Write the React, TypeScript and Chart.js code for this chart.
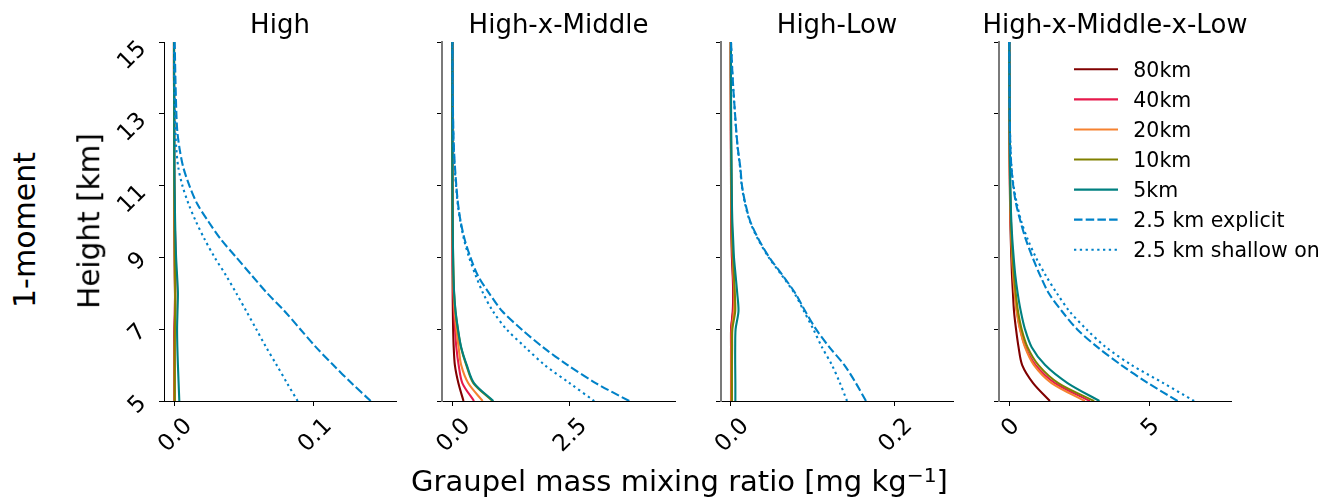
import React, { useEffect, useRef } from "react";
import { Chart, registerables } from "chart.js";

Chart.register(...registerables);

// ---------------- data ----------------
const heights = [5, 5.5, 6, 6.5, 7, 7.5, 8, 8.5, 9, 9.5, 10, 10.5, 11, 11.5, 12, 12.5, 13, 14, 15];

const seriesLabels = ["80km", "40km", "20km", "10km", "5km", "2.5 km explicit", "2.5 km shallow on"];
const panelTitles = ["High", "High-x-Middle", "High-Low", "High-x-Middle-x-Low"];

const yTickValues = [5, 7, 9, 11, 13, 15];
const yTickLabels = ["5", "7", "9", "11", "13", "15"];

const xTickValuesHigh = [0, 0.1];
const xTickLabelsHigh = ["0.0", "0.1"];
const xTickValuesHM = [0, 2.5];
const xTickLabelsHM = ["0.0", "2.5"];
const xTickValuesHL = [0, 0.2];
const xTickLabelsHL = ["0.0", "0.2"];
const xTickValuesHML = [0, 5];
const xTickLabelsHML = ["0", "5"];

// High
const high80 = [0.0003, 0.0003, 0.0003, 0.0003, 0.0004, 0.0008, 0.0007, 0.0005, 0.0004, 0.0003, 0.0002, 0.0002, 0.0001, 0.0001, 0.0001, 0.0001, 0.0001, 0, 0];
const high40 = [0.0003, 0.0003, 0.0003, 0.0003, 0.0003, 0.0005, 0.0008, 0.0012, 0.0012, 0.0009, 0.0005, 0.0003, 0.0002, 0.0001, 0.0001, 0.0001, 0.0001, 0, 0];
const high20 = [0.0004, 0.0004, 0.0004, 0.0005, 0.0009, 0.001, 0.0008, 0.0006, 0.0005, 0.0004, 0.0003, 0.0002, 0.0001, 0.0001, 0.0001, 0.0001, 0.0001, 0, 0];
const high10 = [0.0005, 0.0005, 0.0005, 0.0005, 0.0006, 0.0008, 0.0009, 0.0008, 0.0006, 0.0005, 0.0004, 0.0003, 0.0002, 0.0001, 0.0001, 0.0001, 0.0001, 0, 0];
const high5 = [0.0038, 0.0033, 0.0028, 0.0024, 0.0022, 0.0025, 0.0028, 0.0022, 0.0015, 0.0011, 0.0008, 0.0006, 0.0004, 0.0003, 0.0002, 0.0002, 0.0002, 0.0001, 0];
const highExplicit = [0.1408, 0.127, 0.114, 0.1016, 0.0904, 0.0792, 0.0668, 0.0556, 0.0446, 0.0336, 0.0246, 0.0165, 0.011, 0.0067, 0.0041, 0.0024, 0.0017, 0.001, 0.0005];
const highShallow = [0.0885, 0.0809, 0.0735, 0.0659, 0.0589, 0.0518, 0.0446, 0.0372, 0.0291, 0.022, 0.0157, 0.0103, 0.006, 0.0031, 0.0017, 0.001, 0.0007, 0.0002, 0];

// High-x-Middle
const hm80 = [0.24, 0.13, 0.055, 0.03, 0.018, 0.012, 0.008, 0.006, 0.004, 0.003, 0.002, 0.0015, 0.001, 0.001, 0.001, 0.001, 0.001, 0.001, 0.001];
const hm40 = [0.465, 0.215, 0.136, 0.086, 0.058, 0.036, 0.022, 0.014, 0.009, 0.006, 0.004, 0.003, 0.002, 0.0015, 0.001, 0.001, 0.001, 0.001, 0.001];
const hm20 = [0.65, 0.34, 0.19, 0.135, 0.086, 0.05, 0.03, 0.02, 0.013, 0.009, 0.006, 0.004, 0.003, 0.002, 0.0015, 0.001, 0.001, 0.001, 0.001];
const hm10 = [0.86, 0.45, 0.3, 0.185, 0.118, 0.067, 0.038, 0.024, 0.017, 0.011, 0.007, 0.005, 0.003, 0.002, 0.0015, 0.001, 0.001, 0.001, 0.001];
const hm5 = [0.88, 0.465, 0.31, 0.19, 0.122, 0.07, 0.04, 0.025, 0.018, 0.012, 0.008, 0.005, 0.003, 0.002, 0.0015, 0.001, 0.001, 0.001, 0.001];
const hmExplicit = [3.79, 3.07, 2.47, 1.94, 1.48, 1.07, 0.79, 0.545, 0.39, 0.265, 0.179, 0.122, 0.086, 0.058, 0.036, 0.024, 0.015, 0.008, 0.004];
const hmShallow = [3.04, 2.51, 1.98, 1.56, 1.16, 0.87, 0.66, 0.5, 0.36, 0.25, 0.172, 0.115, 0.08, 0.05, 0.03, 0.02, 0.013, 0.006, 0.001];

// High-Low
const hl80 = [0.0004, 0.0004, 0.0004, 0.0004, 0.0005, 0.0025, 0.003, 0.0025, 0.0015, 0.001, 0.0007, 0.0005, 0.0004, 0.0003, 0.0003, 0.0002, 0.0002, 0.0001, 0.0001];
const hl40 = [0.0005, 0.0005, 0.0005, 0.0005, 0.0006, 0.003, 0.0035, 0.0028, 0.002, 0.0013, 0.0009, 0.0006, 0.0005, 0.0004, 0.0003, 0.0002, 0.0002, 0.0001, 0.0001];
const hl20 = [0.0008, 0.0008, 0.0008, 0.001, 0.0015, 0.004, 0.0045, 0.0035, 0.0025, 0.0017, 0.0012, 0.0009, 0.0007, 0.0005, 0.0004, 0.0003, 0.0002, 0.0001, 0.0001];
const hl10 = [0.0015, 0.0015, 0.0015, 0.0017, 0.002, 0.0055, 0.005, 0.004, 0.003, 0.002, 0.0015, 0.0012, 0.001, 0.0008, 0.0006, 0.0004, 0.0003, 0.0002, 0.0001];
const hl5 = [0.0057, 0.0057, 0.0055, 0.0055, 0.006, 0.0095, 0.008, 0.006, 0.004, 0.003, 0.002, 0.0015, 0.0012, 0.001, 0.0008, 0.0006, 0.0005, 0.0003, 0.0003];
const hlExplicit = [0.1654, 0.153, 0.139, 0.1206, 0.1043, 0.0912, 0.079, 0.0635, 0.0472, 0.0342, 0.024, 0.0179, 0.0138, 0.0118, 0.0089, 0.0069, 0.0053, 0.0024, 0.0004];
const hlShallow = [0.1422, 0.1336, 0.1238, 0.1116, 0.101, 0.0896, 0.078, 0.0625, 0.0465, 0.0335, 0.0235, 0.0175, 0.0135, 0.0115, 0.0087, 0.0067, 0.0052, 0.0023, 0.0003];

// High-x-Middle-x-Low
const hml80 = [1.45, 0.85, 0.46, 0.33, 0.24, 0.168, 0.13, 0.096, 0.073, 0.053, 0.037, 0.027, 0.02, 0.016, 0.013, 0.01, 0.008, 0.004, 0.001];
const hml40 = [2.88, 1.63, 0.94, 0.58, 0.39, 0.275, 0.2, 0.145, 0.108, 0.075, 0.05, 0.035, 0.025, 0.018, 0.013, 0.01, 0.008, 0.004, 0.001];
const hml20 = [2.7, 1.51, 0.88, 0.56, 0.38, 0.26, 0.19, 0.14, 0.1, 0.07, 0.048, 0.033, 0.023, 0.017, 0.012, 0.009, 0.007, 0.004, 0.001];
const hml10 = [3.03, 1.75, 1.04, 0.65, 0.44, 0.31, 0.23, 0.168, 0.12, 0.085, 0.06, 0.042, 0.03, 0.021, 0.015, 0.011, 0.009, 0.005, 0.001];
const hml5 = [3.22, 2.08, 1.28, 0.8, 0.56, 0.41, 0.3, 0.215, 0.156, 0.108, 0.073, 0.05, 0.037, 0.027, 0.02, 0.015, 0.012, 0.007, 0.001];
const hmlExplicit = [6.01, 4.95, 4.0, 3.15, 2.42, 1.88, 1.41, 1.1, 0.83, 0.59, 0.4, 0.24, 0.14, 0.075, 0.042, 0.024, 0.014, 0.006, 0.002];
const hmlShallow = [6.6, 5.5, 4.37, 3.45, 2.75, 2.15, 1.7, 1.3, 0.95, 0.66, 0.43, 0.27, 0.15, 0.08, 0.045, 0.025, 0.015, 0.007, 0.002];

const panelSeries = [
  [high80, high40, high20, high10, high5, highExplicit, highShallow],
  [hm80, hm40, hm20, hm10, hm5, hmExplicit, hmShallow],
  [hl80, hl40, hl20, hl10, hl5, hlExplicit, hlShallow],
  [hml80, hml40, hml20, hml10, hml5, hmlExplicit, hmlShallow],
];
const panelXTicks = [xTickValuesHigh, xTickValuesHM, xTickValuesHL, xTickValuesHML];
const panelXTickLabels = [xTickLabelsHigh, xTickLabelsHM, xTickLabelsHL, xTickLabelsHML];

// ---------------- styles / layout ----------------
const seriesColors = ["#800000", "#e6194b", "#f58231", "#808000", "#008080", "#0082c8", "#0082c8"];
const seriesDashes = [[], [], [], [], [], [8.5, 3.2], [2.3, 3.5]];
const FONT = '"DejaVu Sans", sans-serif';
const FIG_W = 1322;
const FIG_H = 501;
const AX_TOP = 42;
const AX_BOTTOM = 401;
const LEFT_ROOM = 60;

const panelGeom = [
  { left: 164, right: 396, xmin: -0.00716, xmax: 0.1589, padR: 20 },
  { left: 442, right: 675, xmin: -0.2206, xmax: 4.769, padR: 20 },
  { left: 721, right: 953, xmin: -0.01186, xmax: 0.2718, padR: 20 },
  { left: 999, right: 1231, xmin: -0.368, xmax: 7.918, padR: FIG_W - 1231 },
];

function makeTextPlugin(p: number) {
  return {
    id: "panelText" + p,
    afterDraw(chart: any) {
      const ctx = chart.ctx;
      const ca = chart.chartArea;
      const xs = chart.scales.x;
      const ys = chart.scales.y;
      ctx.save();
      ctx.fillStyle = "#000";
      // title
      ctx.font = `26px ${FONT}`;
      ctx.textAlign = "center";
      ctx.textBaseline = "alphabetic";
      ctx.fillText(panelTitles[p], (ca.left + ca.right) / 2, 33.3);

      // x tick labels (rotated 45deg, centred on tick)
      const tf = 23;
      ctx.font = `${tf}px ${FONT}`;
      const xv = panelXTicks[p];
      const xl = panelXTickLabels[p];
      xv.forEach((v, i) => {
        const px = xs.getPixelForValue(v);
        const L = ctx.measureText(xl[i]).width;
        const cy = ca.bottom + 14 + (L + 0.73 * tf) * 0.3536;
        ctx.save();
        ctx.translate(px, cy);
        ctx.rotate(-Math.PI / 4);
        ctx.textAlign = "center";
        ctx.fillText(xl[i], 0, 0.365 * tf);
        ctx.restore();
      });

      // y tick labels (first panel only)
      if (p === 0) {
        yTickValues.forEach((v, i) => {
          const py = ys.getPixelForValue(v);
          const L = ctx.measureText(yTickLabels[i]).width;
          const cx = ca.left - 17 - (L + 0.73 * tf) * 0.3536;
          const cy = py - 7.1 + 0.657 * L;
          ctx.save();
          ctx.translate(cx, cy);
          ctx.rotate(-Math.PI / 4);
          ctx.textAlign = "center";
          ctx.fillText(yTickLabels[i], 0, 0.365 * tf);
          ctx.restore();
        });
      }

      // legend (last panel only)
      if (p === 3) {
        ctx.font = `20.5px ${FONT}`;
        ctx.textAlign = "left";
        chart.data.datasets.forEach((ds: any, i: number) => {
          const y = 69.3 + i * 30.07;
          ctx.save();
          ctx.strokeStyle = ds.borderColor;
          ctx.lineWidth = 2.1;
          ctx.lineCap = "butt";
          ctx.setLineDash(ds.borderDash || []);
          ctx.beginPath();
          ctx.moveTo(ca.left + 75, y);
          ctx.lineTo(ca.left + 119, y);
          ctx.stroke();
          ctx.restore();
          ctx.fillText(ds.label, ca.left + 134.3, y + 7.4);
        });
      }
      ctx.restore();
    },
  };
}

function Panel({ p }: { p: number }) {
  const ref = useRef<HTMLCanvasElement>(null);
  const g = panelGeom[p];
  const width = LEFT_ROOM + (g.right - g.left) + g.padR;
  const cssLeft = g.left - LEFT_ROOM;

  useEffect(() => {
    if (!ref.current) return;
    const xv = panelXTicks[p];
    const datasets = panelSeries[p].map((arr, i) => ({
      label: seriesLabels[i],
      data: heights.map((h, k) => ({ x: arr[k], y: h })),
      borderColor: seriesColors[i],
      backgroundColor: seriesColors[i],
      borderWidth: 2.1,
      borderDash: seriesDashes[i],
      borderCapStyle: "butt",
      showLine: true,
      pointRadius: 0,
      pointHoverRadius: 0,
      tension: 0.3,
      fill: false,
      order: -i,
    }));
    const chart = new Chart(ref.current, {
      type: "scatter",
      data: { datasets } as any,
      options: {
        animation: false,
        responsive: false,
        events: [],
        layout: { padding: { top: AX_TOP, left: 0, right: g.padR, bottom: 0 } },
        plugins: { legend: { display: false }, tooltip: { enabled: false }, title: { display: false } },
        scales: {
          x: {
            type: "linear",
            position: "bottom",
            min: g.xmin,
            max: g.xmax,
            afterBuildTicks: (s: any) => {
              s.ticks = xv.map((v) => ({ value: v }));
            },
            afterFit: (s: any) => {
              s.height = FIG_H - AX_BOTTOM;
            },
            ticks: { display: false },
            grid: { display: true, drawOnChartArea: false, drawTicks: true, tickLength: 5, tickWidth: 1, tickColor: "#000" },
            border: { display: true, color: "#000", width: 1 },
          },
          y: {
            type: "linear",
            position: "left",
            min: 5,
            max: 15,
            afterBuildTicks: (s: any) => {
              s.ticks = yTickValues.map((v) => ({ value: v }));
            },
            afterFit: (s: any) => {
              s.width = LEFT_ROOM;
            },
            ticks: { display: false },
            grid: { display: true, drawOnChartArea: false, drawTicks: true, tickLength: 5, tickWidth: 1, tickColor: "#000" },
            border: { display: true, color: p === 0 ? "#000" : "#7a7a7a", width: p === 0 ? 1 : 2 },
          },
        },
      } as any,
      plugins: [makeTextPlugin(p)],
    });
    return () => chart.destroy();
  }, [p]);

  return (
    <canvas
      ref={ref}
      width={width}
      height={FIG_H}
      style={{ position: "absolute", left: cssLeft, top: 0, width, height: FIG_H }}
    />
  );
}

export default function App() {
  const base: React.CSSProperties = {
    position: "absolute",
    fontFamily: FONT,
    lineHeight: 1,
    whiteSpace: "nowrap",
    color: "#000",
  };
  return (
    <div
      style={{
        position: "absolute",
        left: 0,
        top: 0,
        width: FIG_W,
        height: FIG_H,
        overflow: "hidden",
        background: "#fff",
      }}
    >
      {[0, 1, 2, 3].map((p) => (
        <Panel key={p} p={p} />
      ))}
      <div
        style={{
          ...base,
          fontSize: 30,
          left: 24.6,
          top: 230,
          transform: "translate(-50%, -50%) rotate(-90deg)",
        }}
      >
        1-moment
      </div>
      <div
        style={{
          ...base,
          fontSize: 29.5,
          left: 89.8,
          top: 221.3,
          transform: "translate(-50%, -50%) rotate(-90deg)",
        }}
      >
        Height [km]
      </div>
      <div
        style={{
          ...base,
          fontSize: 29,
          left: 679.5,
          top: 491.5 - 0.846 * 29,
          transform: "translateX(-50%)",
        }}
      >
        Graupel mass mixing ratio [mg kg
        <span style={{ fontSize: "0.7em", position: "relative", top: "-0.43em" }}>−1</span>]
      </div>
    </div>
  );
}
